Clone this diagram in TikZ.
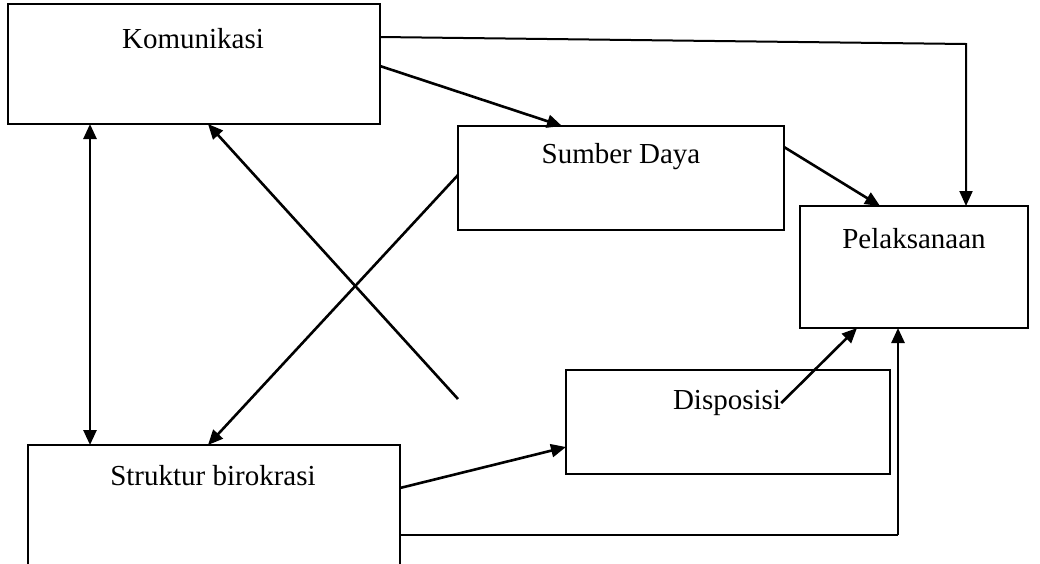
\documentclass[tikz,border=0pt]{standalone}
\usepackage{fontspec}
\setmainfont{Liberation Serif}
\usetikzlibrary{arrows.meta}
\begin{document}
\begin{tikzpicture}[x=1pt,y=-1pt,
  box/.style={draw, line width=2.4pt, inner sep=0pt, outer sep=0pt},
  lbl/.style={inner sep=0pt, font=\fontsize{29}{34}\selectfont},
  conn/.style={line width=2.6pt, -{Triangle[length=15pt,width=13pt]}},
  thin/.style={line width=2pt, -{Triangle[length=15pt,width=13pt]}},
  both/.style={line width=2.6pt, {Triangle[length=15pt,width=13pt]}-{Triangle[length=15pt,width=13pt]}},
  plain/.style={line width=2.4pt}]
\path[use as bounding box, clip] (0,0) rectangle (1040,563);
\fill[white] (0,0) rectangle (1040,563);
% boxes
\node[box, minimum width=372pt, minimum height=120pt] (kom) at (194,64) {};
\node[box, minimum width=326pt, minimum height=104pt] (sd) at (621,178) {};
\node[box, minimum width=228pt, minimum height=122pt] (pel) at (914,267) {};
\node[box, minimum width=324pt, minimum height=104pt] (disp) at (728,422) {};
\node[box, minimum width=372pt, minimum height=180pt] (str) at (214,535) {};
% labels
\node[lbl] (komt) at (193,39) {Komunikasi};
\node[lbl] (sdt) at (621,157) {Sumber Daya};
\node[lbl] (pelt) at (914,239) {Pelaksanaan};
\node[lbl] (dispt) at (727,403) {Disposisi};
\node[lbl] (strt) at (213,476) {Struktur birokrasi};
% helper coordinates
\coordinate (c1) at (966,44);
\coordinate (c2) at (458,399);
\coordinate (c3) at (898,535);
% connectors
\draw[thin] ([yshift=27pt]kom.east) -- (c1) -- (c1 |- pel.north);
\draw[conn] ([yshift=-2pt]kom.east) -- ([xshift=-59pt]sd.north);
\draw[conn] ([yshift=31pt]sd.east) -- ([xshift=-34pt]pel.north);
\draw[both] ([xshift=-104pt]kom.south) -- ([xshift=-104pt]kom.south |- str.north);
\draw[conn] (c2) -- ([xshift=14pt]kom.south);
\draw[conn] ([yshift=3pt]sd.west) -- ([xshift=-6pt]str.north);
\draw[conn] ([yshift=47pt]str.east) -- ([yshift=-25pt]disp.west);
\draw[plain] ([yshift=0pt]str.east) -- (c3);
\draw[conn] (c3) -- (c3 |- pel.south);
\draw[conn] (dispt.east) -- ([xshift=-57pt]pel.south);
\end{tikzpicture}
\end{document}
